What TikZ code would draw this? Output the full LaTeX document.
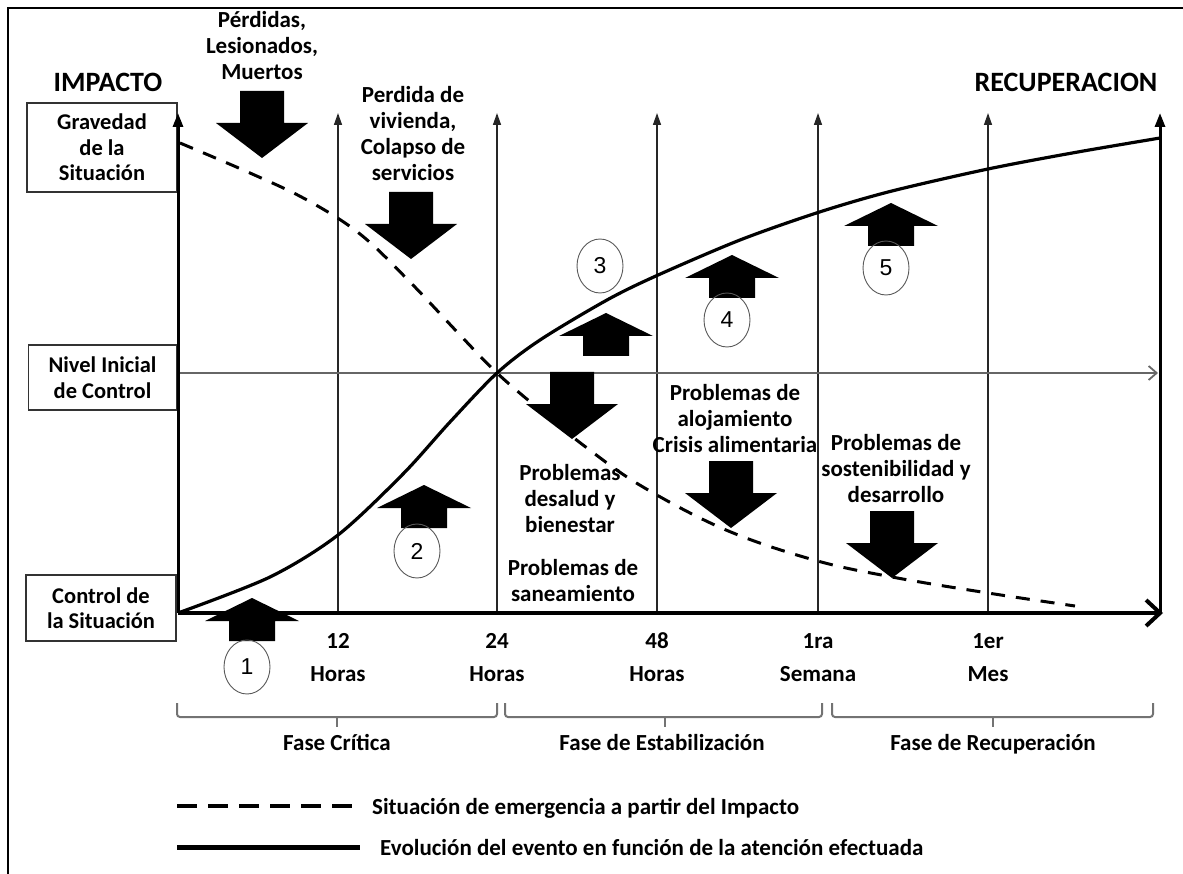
\documentclass[tikz,border=0pt]{standalone}
\usepackage{fontspec}
\setmainfont{Carlito}
\newfontfamily\numfont{Liberation Sans}
\usetikzlibrary{arrows.meta,shapes.geometric}
\begin{document}
\begin{tikzpicture}[x=1pt,y=-1pt,
  lbl/.style={font=\fontsize{23}{26}\selectfont\bfseries, align=center, inner sep=0pt},
  big/.style={font=\fontsize{28}{30}\selectfont\bfseries, inner sep=0pt},
  sidebox/.style={draw=black!80, line width=1.6pt, fill=white, inner sep=0pt, align=center, font=\fontsize{22.5}{25.5}\selectfont\bfseries},
  gridline/.style={line width=1.4pt, draw=black!85, -{Triangle[length=12pt,width=8pt]}},
  mainaxis/.style={line width=3pt, -{Triangle[length=14pt,width=10pt]}},
  numcirc/.style={draw=black!65, line width=0.9pt, ellipse, minimum width=46pt, minimum height=54pt, inner sep=0pt, font=\numfont\fontsize{23}{24}\selectfont},
  bracket/.style={draw=black!55, line width=2pt, rounded corners=3pt},
  downblk/.pic={\fill (-22,0) -- (22,0) -- (22,32) -- (46,32) -- (0,67) -- (-46,32) -- (-22,32) -- cycle;},
  upblk/.pic={\fill (0,0) -- (47,23) -- (23,23) -- (23,43) -- (-23,43) -- (-23,23) -- (-47,23) -- cycle;},
]
\useasboundingbox (0,0) rectangle (1183,874);
% frame
\draw[line width=1.2pt] (8,874) -- (8,8) -- (1183,8);

% side boxes
\node[sidebox, minimum width=150pt, minimum height=89pt] (grav) at (102,147.5) {Gravedad\\de la\\Situación};
\node[sidebox, minimum width=148pt, minimum height=65pt] (nivel) at (102.5,377.5) {Nivel Inicial\\de Control};
\node[sidebox, minimum width=150pt, minimum height=66pt] (ctrl) at (101,608) {Control de\\la Situación};

\node[big] (impacto) at (108,82) {IMPACTO};
\node[big] (recup) at (1066,82) {RECUPERACION};

% grid
\foreach \xx in {338,497,657,818,988} \draw[gridline] (\xx,613) -- (\xx,113);
\draw[line width=1.8pt, draw=black!60, -{Straight Barb[length=8pt,width=14pt]}] (178,373) -- (1158,373);
\draw[mainaxis] (178,613) -- (178,113);
\draw[mainaxis] (1160,613) -- (1160,113);
\draw[line width=4pt, -{Straight Barb[length=14pt,width=26pt]}] (178,613) -- (1163,613);

% block arrows
\pic at (262,91) {downblk};
\pic at (411,192) {downblk};
\pic at (572,372) {downblk};
\pic at (731,461) {downblk};
\pic at (892,511) {downblk};
\pic at (252,598) {upblk};
\pic at (424,485) {upblk};
\pic at (606,313) {upblk};
\pic at (732,255) {upblk};
\pic at (891,203) {upblk};

% curves
\draw[line width=3pt, dash pattern=on 14pt off 11pt] plot[smooth, tension=0.6] coordinates {(180,143) (250,173) (307,200) (360,234) (410,282) (460,335) (497,373) (540,410) (587,448) (643,487) (726,530) (814,560) (892,577) (988,593) (1075,606)};
\draw[line width=3.2pt] plot[smooth, tension=0.5] coordinates {(178,613) (270,577) (338,535) (403,474) (450,422) (497,373) (540,340) (607,300) (657,275.5) (740,240) (818,212.5) (890,191.5) (988,169) (1075,152.5) (1160,138)};

% circled numbers
\node[numcirc] (c1) at (247,667) {1};
\node[numcirc] (c2) at (417,551) {2};
\node[numcirc] (c3) at (600,266) {3};
\node[numcirc] (c4) at (727,320) {4};
\node[numcirc] (c5) at (886,268) {5};

% labels
\node[lbl] (perd) at (262,46) {Pérdidas,\\Lesionados,\\Muertos};
\node[lbl] (viv) at (413,134) {Perdida de\\vivienda,\\Colapso de\\servicios};
\node[lbl] (salud) at (570,499) {Problemas\\desalud y\\bienestar};
\node[lbl] (sanea) at (573,581) {Problemas de\\saneamiento};
\node[lbl] (aloj) at (735,419) {Problemas de\\alojamiento\\Crisis alimentaria};
\node[lbl] (sost) at (896,469) {Problemas de\\sostenibilidad y\\desarrollo};

% axis labels
\node[lbl, anchor=base] (t12) at (338,648) {12};
\node[lbl, anchor=base] (h12) at (338,681) {Horas};
\node[lbl, anchor=base] (t24) at (497,648) {24};
\node[lbl, anchor=base] (h24) at (497,681) {Horas};
\node[lbl, anchor=base] (t48) at (657,648) {48};
\node[lbl, anchor=base] (h48) at (657,681) {Horas};
\node[lbl, anchor=base] (tsem) at (818,648) {1ra};
\node[lbl, anchor=base] (hsem) at (818,681) {Semana};
\node[lbl, anchor=base] (tmes) at (988,648) {1er};
\node[lbl, anchor=base] (hmes) at (988,681) {Mes};

% phase brackets
\draw[bracket] (177,703) -- (177,717) -- (497,717) -- (497,703);
\draw[bracket] (337,717) -- (337,727);
\draw[bracket] (505,703) -- (505,717) -- (822,717) -- (822,703);
\draw[bracket] (665,717) -- (665,727);
\draw[bracket] (832,703) -- (832,717) -- (1153,717) -- (1153,703);
\draw[bracket] (993,717) -- (993,727);
\node[lbl, anchor=base] (f1) at (337,750) {Fase Crítica};
\node[lbl, anchor=base] (f2) at (662,750) {Fase de Estabilización};
\node[lbl, anchor=base] (f3) at (993,750) {Fase de Recuperación};

% legend
\coordinate (ld1) at (177,806);
\coordinate (ld2) at (359,806);
\coordinate (ls1) at (177,847);
\coordinate (ls2) at (360,847);
\draw[line width=4pt, dash pattern=on 20pt off 11pt] (ld1) -- (ld2);
\draw[line width=5pt] (ls1) -- (ls2);
\node[lbl, anchor=base west] (legd) at (372,814) {Situación de emergencia a partir del Impacto};
\node[lbl, anchor=base west] (legs) at (380,855) {Evolución del evento en función de la atención efectuada};
\end{tikzpicture}
\end{document}
